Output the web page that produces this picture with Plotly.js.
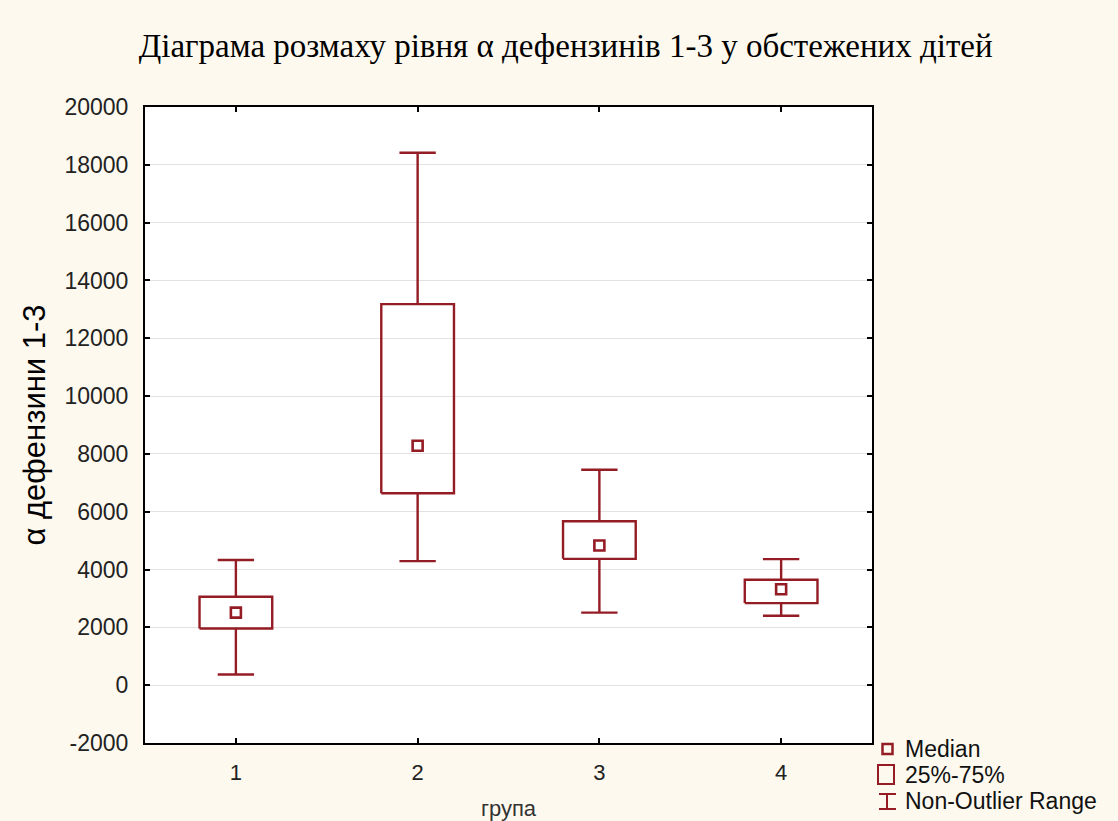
<!DOCTYPE html>
<html>
<head>
<meta charset="utf-8">
<script src="https://cdn.plot.ly/plotly-3.0.1.min.js"></script>
<style>
html,body{margin:0;padding:0;background:#fdf9ee;}
#chart{width:1118px;height:821px;}
</style>
</head>
<body>
<div id="chart"></div>
<script>
// ---- data ----
const groups = [1, 2, 3, 4];
const medians = [2510, 8280, 4830, 3320];
const q1 = [1960, 6640, 4370, 2840];
const q3 = [3060, 13180, 5670, 3645];
const whiskerLow = [370, 4290, 2510, 2400];
const whiskerHigh = [4330, 18420, 7450, 4360];
const yTicks = [-2000, 0, 2000, 4000, 6000, 8000, 10000, 12000, 14000, 16000, 18000, 20000];
const legendLabels = ['Median', '25%-75%', 'Non-Outlier Range'];

const RED = '#941c24';
const BOX_HALF = 0.2, CAP_HALF = 0.1;

// build box outlines and whiskers as line paths from the data
const boxX = [], boxY = [], whX = [], whY = [];
groups.forEach((g, i) => {
  boxX.push(g - BOX_HALF, g + BOX_HALF, g + BOX_HALF, g - BOX_HALF, g - BOX_HALF, null);
  boxY.push(q1[i], q1[i], q3[i], q3[i], q1[i], null);
  // upper whisker
  whX.push(g, g, null, g - CAP_HALF, g + CAP_HALF, null);
  whY.push(q3[i], whiskerHigh[i], null, whiskerHigh[i], whiskerHigh[i], null);
  // lower whisker
  whX.push(g, g, null, g - CAP_HALF, g + CAP_HALF, null);
  whY.push(q1[i], whiskerLow[i], null, whiskerLow[i], whiskerLow[i], null);
});

const traces = [
  {x: whX, y: whY, mode: 'lines', line: {color: RED, width: 2.4}, hoverinfo: 'skip', showlegend: false},
  {x: boxX, y: boxY, mode: 'lines', line: {color: RED, width: 2.4}, hoverinfo: 'skip', showlegend: false},
  {x: groups, y: medians, mode: 'markers', showlegend: false,
   marker: {symbol: 'square-open', size: 10, color: RED, line: {width: 2.6, color: RED}}}
];

// plot area in pixels
const L = 145, R = 872, T = 107, B = 743, W = 1118, H = 821;
const px = x => (x - L) / (R - L);
const py = y => (B - y) / (B - T);

const shapes = [
  // legend: median marker
  {type: 'rect', xref: 'paper', yref: 'paper', x0: px(882.5), x1: px(892.5), y0: py(754), y1: py(744),
   line: {color: RED, width: 2.5}},
  // legend: 25-75 box
  {type: 'rect', xref: 'paper', yref: 'paper', x0: px(878), x1: px(894), y0: py(784), y1: py(765),
   line: {color: RED, width: 2}},
  // legend: I-beam
  {type: 'line', xref: 'paper', yref: 'paper', x0: px(887), x1: px(887), y0: py(809), y1: py(794),
   line: {color: RED, width: 2}},
  {type: 'line', xref: 'paper', yref: 'paper', x0: px(879), x1: px(896), y0: py(794), y1: py(794),
   line: {color: RED, width: 2}},
  {type: 'line', xref: 'paper', yref: 'paper', x0: px(879), x1: px(896), y0: py(809), y1: py(809),
   line: {color: RED, width: 2}}
];

const legendY = [749, 775, 801];
const annotations = legendLabels.map((t, i) => ({
  text: t, xref: 'paper', yref: 'paper', x: px(903), y: py(legendY[i]),
  xanchor: 'left', yanchor: 'middle', showarrow: false,
  font: {family: 'Liberation Sans, Arial, sans-serif', size: 23, color: '#111'}
}));

const layout = {
  width: W, height: H,
  paper_bgcolor: '#fdf9ee',
  plot_bgcolor: '#ffffff',
  margin: {l: L, r: W - R, t: T, b: H - B, pad: 0},
  showlegend: false,
  title: {
    text: 'Діаграма розмаху рівня α дефензинів 1-3 у обстежених дітей',
    xref: 'container', yref: 'container', x: 0.506, y: 1 - 45 / H,
    xanchor: 'center', yanchor: 'middle',
    font: {family: 'Liberation Serif, Times New Roman, serif', size: 33, color: '#000'}
  },
  xaxis: {
    range: [0.5, 4.5], tickvals: groups, ticktext: groups.map(String),
    showgrid: false, zeroline: false,
    showline: true, linecolor: '#000', linewidth: 2, mirror: 'allticks',
    ticks: 'inside', ticklen: 5, tickwidth: 2, tickcolor: '#000',
    ticklabelstandoff: 9,
    tickfont: {family: 'Liberation Sans, Arial, sans-serif', size: 22, color: '#222'},
    title: {text: 'група', standoff: 16,
      font: {family: 'Liberation Sans, Arial, sans-serif', size: 22, color: '#333'}}
  },
  yaxis: {
    range: [-2000, 20000], tickvals: yTicks, ticktext: yTicks.map(String),
    showgrid: true, gridcolor: '#e2e2e2', gridwidth: 1, zeroline: false,
    showline: true, linecolor: '#000', linewidth: 2, mirror: 'allticks',
    ticks: 'inside', ticklen: 5, tickwidth: 2, tickcolor: '#000',
    ticklabelstandoff: 10,
    tickfont: {family: 'Liberation Sans, Arial, sans-serif', size: 23, color: '#222'},
    title: {text: 'α дефензини 1-3', standoff: 10,
      font: {family: 'Liberation Sans, Arial, sans-serif', size: 31, color: '#000'}}
  },
  shapes: shapes,
  annotations: annotations
};

Plotly.newPlot('chart', traces, layout, {displayModeBar: false, staticPlot: true});
</script>
</body>
</html>
